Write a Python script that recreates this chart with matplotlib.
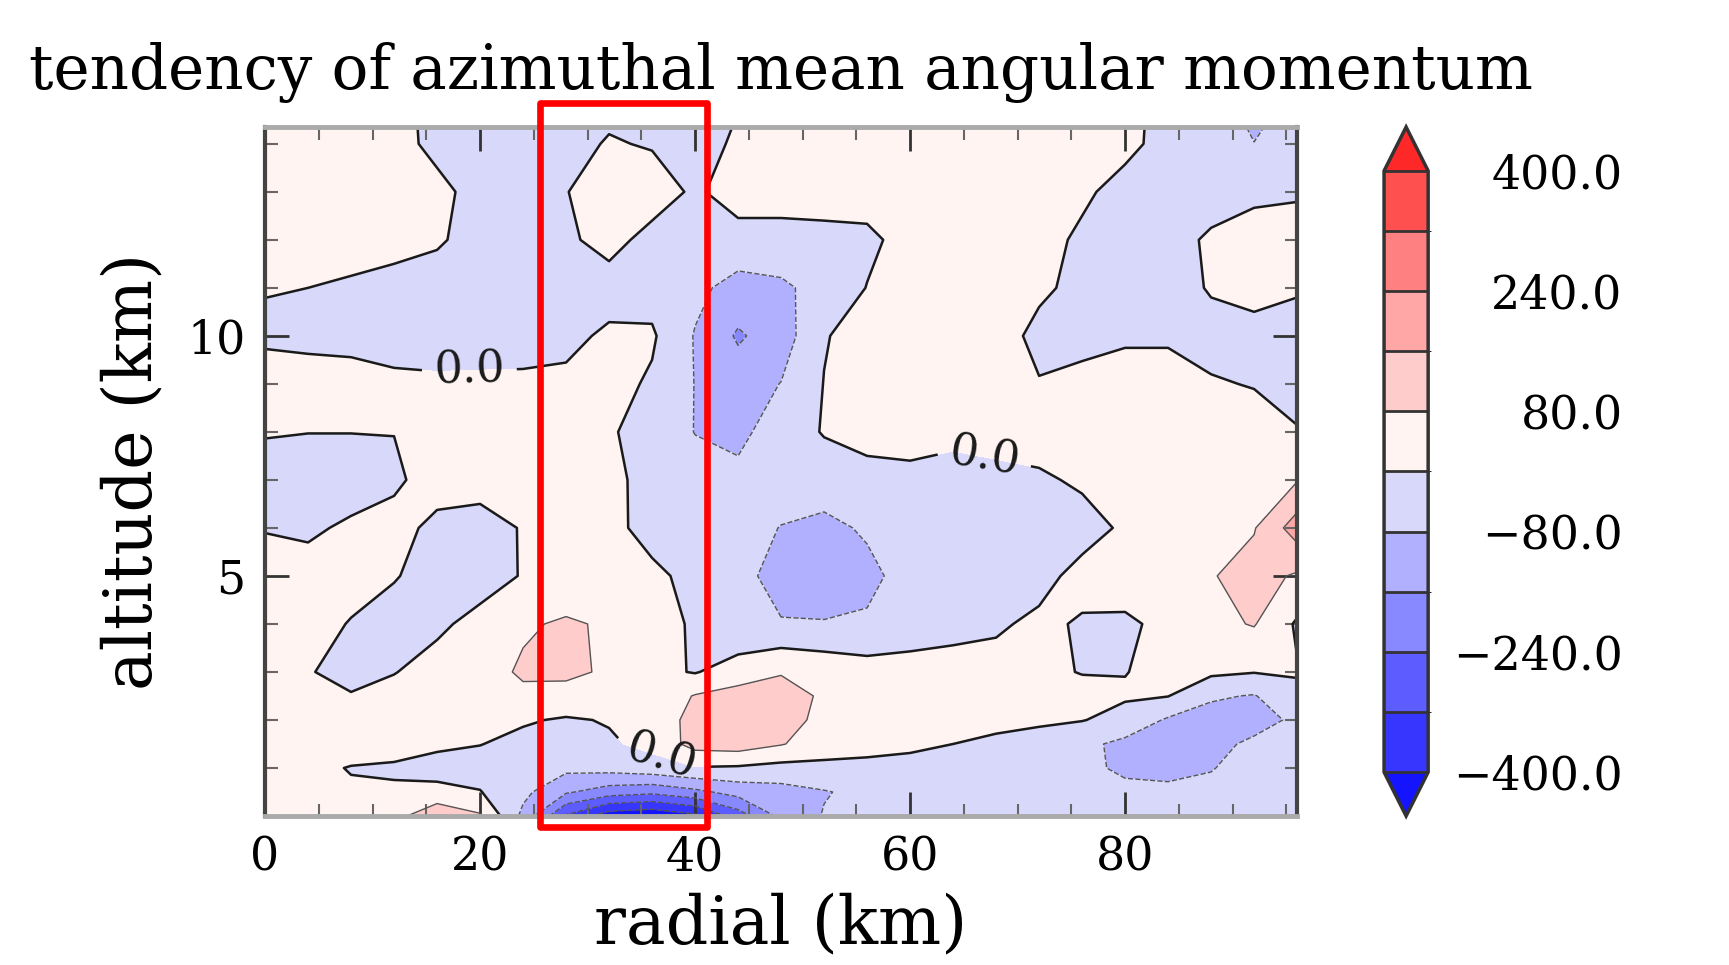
import matplotlib
matplotlib.use("Agg")
import matplotlib.pyplot as plt
import numpy as np
from matplotlib.colors import ListedColormap, BoundaryNorm
from matplotlib.patches import Rectangle

plt.rcParams["font.family"] = "DejaVu Serif"

# grid (km)
radial_km = [0, 4, 8, 12, 16, 20, 24, 28, 32, 36, 40, 44, 48,
             52, 56, 60, 64, 68, 72, 76, 80, 84, 88, 92, 96]
altitude_km = [0, 0.5, 1, 1.5, 2, 2.5, 3, 4, 5, 6, 7, 8, 9, 10, 11, 12, 13, 14, 15]

# tendency values, one row per altitude (bottom -> top)
tendency = [
    [30, 30, 35, 50, 150, 90, -100, -330, -450, -470, -420, -280, -140, -75, -60, -40, -35, -30, -30, -35, -40, -40, -35, -30, -25],
    [25, 15, 5, 5, 15, 3, -60, -150, -200, -220, -180, -130, -110, -85, -60, -30, -25, -25, -30, -40, -60, -65, -55, -30, -25],
    [20, 10, -2, -5, -20, -30, -40, -60, -50, -30, -5, -10, -25, -20, -20, -25, -30, -35, -40, -60, -95, -100, -85, -40, -30],
    [20, 20, 20, 15, 10, 2, -20, -25, -10, 20, 110, 120, 85, 40, 25, 15, 0, -15, -30, -60, -100, -120, -110, -60, -30],
    [25, 25, 25, 25, 20, 15, 8, -8, 5, 25, 110, 120, 110, 60, 40, 30, 25, 20, 12, 3, -25, -90, -110, -120, -60],
    [20, 20, 5, 25, 35, 40, 65, 55, 35, 25, 85, 110, 110, 70, 40, 35, 30, 25, 20, 15, 8, 2, -70, -85, -15],
    [15, 5, -25, -3, 30, 50, 90, 95, 70, 20, -5, 40, 75, 55, 35, 30, 25, 20, 10, -2, -2, 20, 15, 3, 5],
    [25, 20, -3, -30, -15, 25, 70, 90, 70, 25, -8, -70, -75, -75, -70, -40, -20, -8, 12, -6, -10, 15, 60, 85, -10],
    [25, 23, 20, 5, -30, -35, 5, 25, 25, 15, -20, -55, -110, -130, -100, -50, -35, -30, -20, 20, 30, 50, 75, 110, 70],
    [-3, -10, 10, 20, -15, -30, 5, 30, 20, -25, -40, -55, -82, -100, -70, -40, -35, -35, -30, -25, 10, 40, 50, 75, 200],
    [-25, -30, -30, -10, 25, 30, 30, 30, 15, -20, -50, -60, -50, -40, -30, -20, -15, -15, -10, 10, 30, 40, 45, 55, 75],
    [4, 1, 1, 1, 25, 30, 30, 30, 8, -30, -82, -100, -40, 5, 30, 30, 10, 20, 30, 30, 30, 30, 30, 25, 5],
    [40, 25, 25, 10, 7, 8, 9, 12, 25, -10, -82, -120, -78, 2, 30, 30, 30, 30, 3, 18, 30, 30, 5, -3, -30],
    [-15, -15, -20, -20, -20, -20, -20, -15, 10, 10, -85, -170, -120, -5, 30, 30, 30, 25, -15, -20, -10, -10, -20, -20, -20],
    [4, 0, -10, -25, -30, -35, -35, -30, -25, -30, -60, -110, -95, -50, 2, 30, 30, 30, 10, -15, -30, -25, 5, 20, 5],
    [30, 30, 30, 25, 8, -25, -30, -10, 20, -20, -35, -25, -25, -20, -15, 25, 30, 30, 20, -10, -30, -25, 10, 30, 30],
    [30, 30, 30, 30, 15, -20, -30, -2, 30, 30, -10, 30, 30, 30, 30, 30, 30, 30, 30, 10, -20, -30, -30, -15, -8],
    [30, 30, 30, 20, -15, -30, -30, -20, 5, -5, -25, 10, 30, 30, 30, 30, 30, 30, 30, 30, 15, -20, -30, -78, -40],
    [30, 30, 30, 20, -20, -30, -30, -30, -20, -20, -20, -5, 25, 30, 30, 30, 30, 30, 30, 30, 20, -20, -40, -130, -60],
]

levels = [-400, -320, -240, -160, -80, 0, 80, 160, 240, 320, 400]
cbar_labels = [-400, -240, -80, 80, 240, 400]
label_spots = [(19, 9.3), (67, 7.6), (37, 1.35)]
highlight_x = (25.6, 41.1)
highlight_y = (-0.23, 14.86)

band_colors = ["#3636FF", "#5C5CFF", "#8888FF", "#B0B0FF", "#D8D8FA",
               "#FFF4F2", "#FFCCCC", "#FFA6A6", "#FF8080", "#FF5050"]
cmap = ListedColormap(band_colors)
cmap.set_under("#1414FF")
cmap.set_over("#FF2828")
norm = BoundaryNorm(levels, cmap.N)

X, Y = np.meshgrid(radial_km, altitude_km)
Z = np.array(tendency, dtype=float)

fig = plt.figure(figsize=(17.29, 9.65), dpi=100)
ax = fig.add_axes([0.1533, 0.1544, 0.5969, 0.7140])

cf = ax.contourf(X, Y, Z, levels=levels, cmap=cmap, norm=norm, extend="both")

other = [l for l in levels if l != 0]
ax.contour(X, Y, Z, levels=other, colors="#555555", linewidths=1.0,
           linestyles=["--" if l < 0 else "-" for l in other])
cs0 = ax.contour(X, Y, Z, levels=[0], colors="#1a1a1a", linewidths=1.8)
ax.clabel(cs0, fmt="%.1f", manual=label_spots, fontsize=32, inline=True,
          inline_spacing=12)

ax.set_xlim(0, 96)
ax.set_ylim(0, 14.35)
ax.set_xticks([0, 20, 40, 60, 80])
ax.set_xticks(np.arange(0, 97, 5), minor=True)
ax.set_yticks([5, 10])
ax.set_yticks(np.arange(0, 15, 1), minor=True)
ax.tick_params(which="major", direction="in", length=17, width=2, color="#333333",
               top=True, right=True, labelsize=33, pad=14)
ax.tick_params(which="minor", direction="in", length=9, width=1.5, color="#666666",
               top=True, right=True)
for side in ["left", "right"]:
    ax.spines[side].set_color("#444444")
    ax.spines[side].set_linewidth(3)
for side in ["top", "bottom"]:
    ax.spines[side].set_color("#aaaaaa")
    ax.spines[side].set_linewidth(3.5)

ax.set_xlabel("radial (km)", fontsize=48, labelpad=8)
ax.set_ylabel("altitude (km)", fontsize=48, labelpad=16)
fig.text(0.017, 0.925, "tendency of azimuthal mean angular momentum",
         fontsize=44, ha="left", va="center")

ax.add_patch(Rectangle((highlight_x[0], highlight_y[0]),
                       highlight_x[1] - highlight_x[0],
                       highlight_y[1] - highlight_y[0],
                       fill=False, edgecolor="#ff0000", linewidth=4.8,
                       clip_on=False, zorder=10, joinstyle="round"))

cax = fig.add_axes([0.8005, 0.1544, 0.0255, 0.7140])
cb = fig.colorbar(cf, cax=cax, extend="both", extendfrac=0.073, drawedges=True)
cb.set_ticks(cbar_labels)
cb.set_ticklabels(["%.1f" % v if v >= 0 else "\u2212%.1f" % abs(v) for v in cbar_labels])
cb.outline.set_linewidth(2.5)
cb.outline.set_edgecolor("#333333")
cb.dividers.set_color("#333333")
cb.dividers.set_linewidth(2)
cax.tick_params(length=0, labelsize=33, pad=140)
for t in cax.get_yticklabels():
    t.set_ha("right")

fig.savefig("out.png", dpi=100)
